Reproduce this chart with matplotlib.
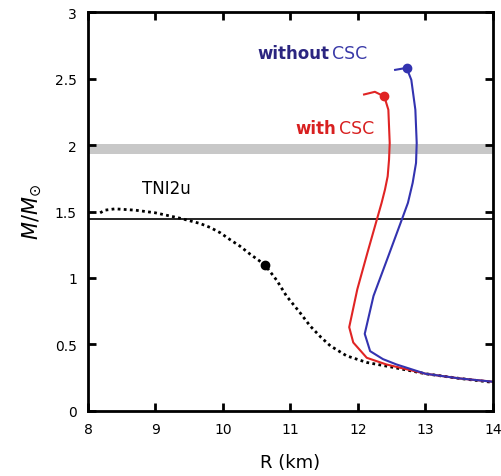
import matplotlib.pyplot as plt

# TNI2u (dotted)
r_tni = [8.18, 8.25, 8.4, 8.7, 9.0, 9.36, 9.66, 9.81, 9.96, 10.10, 10.25, 10.40, 10.62, 10.80, 10.94, 11.14, 11.29,
         11.45, 11.59, 11.83, 12.13, 12.5, 13.0, 13.5, 14.0]
m_tni = [1.49, 1.51, 1.52, 1.51, 1.49, 1.45, 1.41, 1.38, 1.34, 1.29, 1.24, 1.18, 1.10, 0.98, 0.865, 0.74, 0.64,
         0.555, 0.49, 0.415, 0.365, 0.33, 0.28, 0.245, 0.215]

# with CSC (red)
r_with = [12.09, 12.25, 12.39, 12.45, 12.47, 12.46, 12.44, 12.40, 12.35, 12.28, 12.14, 11.99, 11.87, 11.93, 12.13, 12.42,
          13.0, 13.5, 14.0]
m_with = [2.38, 2.40, 2.365, 2.265, 2.015, 1.89, 1.765, 1.665, 1.565, 1.44, 1.19, 0.915, 0.63, 0.515, 0.40, 0.35,
          0.28, 0.245, 0.22]

# without CSC (blue)
r_wo = [12.55, 12.72, 12.79, 12.85, 12.87, 12.86, 12.81, 12.74, 12.65, 12.45, 12.23, 12.10, 12.18, 12.37, 12.57,
        13.0, 13.5, 14.0]
m_wo = [2.565, 2.58, 2.49, 2.265, 2.015, 1.865, 1.715, 1.565, 1.44, 1.165, 0.865, 0.58, 0.45, 0.39, 0.35,
        0.28, 0.245, 0.22]

tni_dot = (10.62, 1.10)
with_dot = (12.39, 2.365)
wo_dot = (12.72, 2.58)

fig = plt.figure(figsize=(5.01, 4.77), dpi=100)
ax = fig.add_axes([0.1756, 0.1363, 0.8084, 0.8364])

ax.axhspan(1.93, 2.01, color="#c8c8c8", lw=0)
ax.axhline(1.44, color="black", lw=1.2)

ax.plot(r_tni, m_tni, color="black", ls=(0, (1, 1.2)), lw=2)
ax.plot(*tni_dot, "o", color="black", ms=6)

ax.plot(r_with, m_with, color="#e02424", lw=1.5)
ax.plot(*with_dot, "o", color="#e02424", ms=6)
ax.plot(r_wo, m_wo, color="#3333b0", lw=1.5)
ax.plot(*wo_dot, "o", color="#3333b0", ms=6)

ax.text(11.58, 2.69, "without", color="#2b2580", fontsize=12, fontweight="bold", ha="right", va="center")
ax.text(11.62, 2.69, "CSC", color="#3a3aa8", fontsize=12.5, ha="left", va="center")
ax.text(11.68, 2.13, "with", color="#d82020", fontsize=12, fontweight="bold", ha="right", va="center")
ax.text(11.72, 2.13, "CSC", color="#d82020", fontsize=12.5, ha="left", va="center")
ax.text(8.8, 1.68, "TNI2u", color="black", fontsize=12, ha="left", va="center")

ax.set_xlim(8, 14)
ax.set_ylim(0, 3)
ax.set_xticks(range(8, 15))
ax.set_yticks([0, 0.5, 1, 1.5, 2, 2.5, 3])
ax.set_yticklabels(["0", "0.5", "1", "1.5", "2", "2.5", "3"])
ax.tick_params(direction="in", top=True, right=True, length=6, width=2, labelsize=10, pad=8)
for s in ax.spines.values():
    s.set_linewidth(2)

ax.set_xlabel("R (km)", fontsize=13, labelpad=12)
ax.set_ylabel(r"$M/M_{\odot}$", fontsize=15, labelpad=8)

fig.savefig("out.png", dpi=100)
